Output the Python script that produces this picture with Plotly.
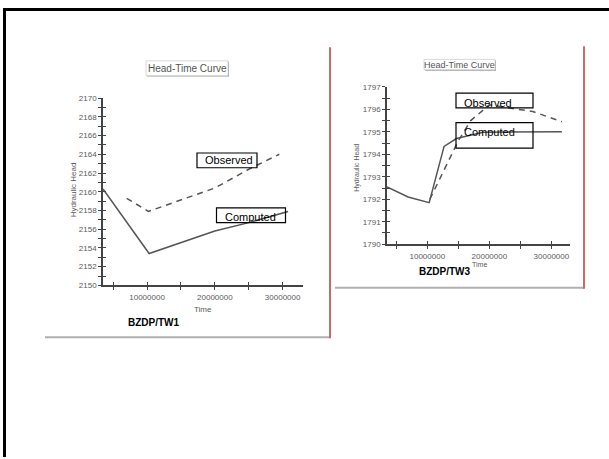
import plotly.graph_objects as go

W, H = 609, 459

# ---------------- data ----------------
tw1_comp_time = [3.5e6, 10.3e6, 20.0e6, 25.0e6, 30.8e6]
tw1_comp_head = [2160.3, 2153.4, 2155.8, 2156.7, 2157.9]
tw1_obs_time = [7.0e6, 10.2e6, 20.0e6, 25.0e6, 29.5e6]
tw1_obs_head = [2159.3, 2157.9, 2160.4, 2162.4, 2164.0]

tw3_comp_time = [3.5e6, 6.9e6, 10.3e6, 12.7e6, 14.7e6, 19.0e6, 31.7e6]
tw3_comp_head = [1792.55, 1792.1, 1791.85, 1794.35, 1794.7, 1794.98, 1795.0]
tw3_obs_time = [10.4e6, 13.0e6, 15.0e6, 17.0e6, 20.0e6, 27.0e6, 31.7e6]
tw3_obs_head = [1792.0, 1793.5, 1794.6, 1795.5, 1796.2, 1795.9, 1795.45]

time_tickvals = [10000000, 20000000, 30000000]
time_ticktext = ["10000000", "20000000", "30000000"]
tw1_head_ticks = [2150, 2152, 2154, 2156, 2158, 2160, 2162, 2164, 2166, 2168, 2170]
tw3_head_ticks = [1790, 1791, 1792, 1793, 1794, 1795, 1796, 1797]


def fx(x):
    return x / W


def fy(y):
    return 1 - y / H


fig = go.Figure()
line_col = "#555555"
fig.add_trace(go.Scatter(x=tw1_comp_time, y=tw1_comp_head, mode="lines",
                         line=dict(color=line_col, width=1.5), xaxis="x", yaxis="y", showlegend=False))
fig.add_trace(go.Scatter(x=tw1_obs_time, y=tw1_obs_head, mode="lines",
                         line=dict(color=line_col, width=1.5, dash="6px,5px"), xaxis="x", yaxis="y", showlegend=False))
fig.add_trace(go.Scatter(x=tw3_comp_time, y=tw3_comp_head, mode="lines",
                         line=dict(color=line_col, width=1.5), xaxis="x2", yaxis="y2", showlegend=False))
fig.add_trace(go.Scatter(x=tw3_obs_time, y=tw3_obs_head, mode="lines",
                         line=dict(color=line_col, width=1.5, dash="6px,5px"), xaxis="x2", yaxis="y2", showlegend=False))
# invisible traces to activate the inner-tick overlay axes
for xa, ya in [("x3", "y3"), ("x4", "y4")]:
    fig.add_trace(go.Scatter(x=[None], y=[None], xaxis=xa, yaxis=ya, showlegend=False, hoverinfo="skip"))

tick_font = dict(family="Liberation Sans Narrow, Arial", size=8, color="#5a5a5a")
axis_col = "#444444"
xr = [3.5e6, 33e6]

dom_x1 = [fx(103), fx(303)]
dom_y1 = [fy(287), fy(96)]
dom_x2 = [fx(387), fx(570)]
dom_y2 = [fy(245), fy(84.5)]


def xaxis(domain, anchor, ticks, labels):
    return dict(domain=domain, anchor=anchor, range=xr, showgrid=False, zeroline=False,
                showline=labels, linecolor=axis_col, linewidth=1.5,
                tickvals=time_tickvals, ticktext=time_ticktext, showticklabels=labels,
                ticks=ticks, ticklen=3, tickwidth=1.2, tickcolor=axis_col, tickfont=tick_font,
                minor=dict(tickvals=[5e6, 15e6, 25e6], ticks=ticks, ticklen=3, tickwidth=1.2, tickcolor=axis_col))


def yaxis(domain, anchor, rng, tv, minor_dtick, ticks, labels):
    return dict(domain=domain, anchor=anchor, range=rng, showgrid=False, zeroline=False,
                showline=labels, linecolor=axis_col, linewidth=1.5,
                tickvals=tv, showticklabels=labels,
                ticks=ticks, ticklen=3, tickwidth=1.2, tickcolor=axis_col, tickfont=tick_font,
                minor=dict(dtick=minor_dtick, tick0=rng[0], ticks=ticks, ticklen=3, tickwidth=1.2,
                           tickcolor=axis_col))


fig.update_layout(
    width=W, height=H, margin=dict(l=0, r=0, t=0, b=0),
    paper_bgcolor="white", plot_bgcolor="rgba(0,0,0,0)",
    xaxis=xaxis(dom_x1, "y", "outside", True),
    yaxis=yaxis(dom_y1, "x", [2150, 2170], tw1_head_ticks, 1, "outside", True),
    xaxis2=xaxis(dom_x2, "y2", "outside", True),
    yaxis2=yaxis(dom_y2, "x2", [1790, 1797], tw3_head_ticks, 0.5, "outside", True),
    xaxis3=dict(xaxis(dom_x1, "y3", "inside", False), overlaying="x"),
    yaxis3=dict(yaxis(dom_y1, "x3", [2150, 2170], tw1_head_ticks, 1, "inside", False), overlaying="y"),
    xaxis4=dict(xaxis(dom_x2, "y4", "inside", False), overlaying="x2"),
    yaxis4=dict(yaxis(dom_y2, "x4", [1790, 1797], tw3_head_ticks, 0.5, "inside", False), overlaying="y2"),
)

shapes = []
# outer slide frame
shapes.append(dict(type="line", xref="paper", yref="paper", x0=fx(3), x1=fx(612), y0=fy(5.5), y1=fy(5.5),
                   line=dict(color="black", width=3)))
shapes.append(dict(type="line", xref="paper", yref="paper", x0=fx(4.5), x1=fx(4.5), y0=fy(4), y1=fy(462),
                   line=dict(color="black", width=3)))
# left panel frame
shapes.append(dict(type="line", xref="paper", yref="paper", x0=fx(45), x1=fx(330), y0=fy(340), y1=fy(340),
                   line=dict(color="#b0b0b0", width=2)))
shapes.append(dict(type="line", xref="paper", yref="paper", x0=fx(330), x1=fx(330), y0=fy(44), y1=fy(341),
                   line=dict(color="#c86a6a", width=2)))
# right panel frame
shapes.append(dict(type="line", xref="paper", yref="paper", x0=fx(335), x1=fx(584), y0=fy(289.5), y1=fy(289.5),
                   line=dict(color="#b0b0b0", width=2)))
shapes.append(dict(type="line", xref="paper", yref="paper", x0=fx(584), x1=fx(584), y0=fy(43), y1=fy(290.5),
                   line=dict(color="#c86a6a", width=2)))
# title buttons (shadow + box)
for (x0, y0, x1, y1) in [(146, 58, 228, 73), (424, 56.5, 495, 67)]:
    shapes.append(dict(type="rect", xref="paper", yref="paper", x0=fx(x0 + 1), x1=fx(x1 + 1), y0=fy(y0 + 1), y1=fy(y1 + 1),
                       line=dict(width=0), fillcolor="#9a9a9a"))
    shapes.append(dict(type="rect", xref="paper", yref="paper", x0=fx(x0), x1=fx(x1), y0=fy(y0), y1=fy(y1),
                       line=dict(color="#d8d8d8", width=1), fillcolor="white"))
# label boxes
for (x0, y0, x1, y1) in [(197, 152, 257, 167), (216.5, 208, 285.5, 223), (456, 91, 533, 106), (456, 121, 533, 147)]:
    shapes.append(dict(type="rect", xref="paper", yref="paper", x0=fx(x0), x1=fx(x1), y0=fy(y0), y1=fy(y1),
                       line=dict(color="black", width=1.2), fillcolor="rgba(0,0,0,0)", layer="above"))
fig.update_layout(shapes=shapes)

small = dict(family="Liberation Sans Narrow, Arial", size=8, color="#5a5a5a")
ann = []


def text(x, y, s, font, xanchor="center", angle=0):
    ann.append(dict(xref="paper", yref="paper", x=fx(x), y=fy(y), text=s, showarrow=False,
                    xanchor=xanchor, yanchor="middle", font=font, textangle=angle))


text(187, 65.5, "Head-Time Curve", dict(family="Liberation Sans Narrow, Arial", size=10, color="#555555"))
text(459.5, 62, "Head-Time Curve", dict(family="Liberation Sans Narrow, Arial", size=9, color="#555555"))
text(73, 190, "Hydraulic Head", small, angle=-90)
text(357, 167, "Hydraulic Head", dict(family="Liberation Sans Narrow, Arial", size=7, color="#5a5a5a"), angle=-90)
text(203, 312, "Time", small)
text(479, 266, "Time", dict(family="Liberation Sans Narrow, Arial", size=7, color="#5a5a5a"))
bold = dict(family="Arial, Liberation Sans", size=10, color="black")
text(126, 325, "<b>BZDP/TW1</b>", bold, xanchor="left")
text(417, 273, "<b>BZDP/TW3</b>", bold, xanchor="left")
lab = dict(family="Arial, Liberation Sans", size=11, color="black")
text(203, 159.5, "Observed", lab, xanchor="left")
text(223, 217.5, "Computed", lab, xanchor="left")
text(462, 100.5, "Observed", lab, xanchor="left")
text(462, 131, "Computed", lab, xanchor="left")
fig.update_layout(annotations=ann)

fig.write_html("out.html", config={"displayModeBar": False},
               post_script="document.body.style.margin='0';document.body.style.overflow='hidden';")
